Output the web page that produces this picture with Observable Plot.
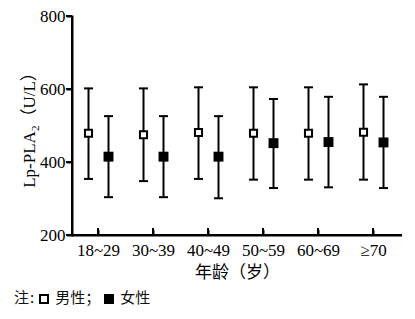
<!DOCTYPE html>
<html><head><meta charset="utf-8">
<script src="https://cdn.jsdelivr.net/npm/d3@7"></script>
<script src="https://cdn.jsdelivr.net/npm/@observablehq/plot@0.6"></script>
<style>
body{margin:0;background:#fff;font-family:"Liberation Serif","Noto Sans CJK SC",serif;}
#chart{position:relative;width:415px;height:282px}
.ax{position:absolute;background:#000}
#legend{font-family:"Noto Sans CJK SC",sans-serif;font-size:15px;color:#111;margin:4px 0 0 14px;height:22px;line-height:22px}
.sq{display:inline-block;box-sizing:border-box;width:10px;height:10px;margin:0 6px 0 4px;vertical-align:-1px}
</style></head>
<body><div id="chart"></div>
<div id="legend">注<span style="margin:0 1px">:</span><span class="sq" style="border:2px solid #000;background:#fff"></span>男性；<span class="sq" style="background:#000"></span>女性</div>
<script>
const ages = ["18~29","30~39","40~49","50~59","60~69","≥70"];
const maleMean = [480, 476, 482, 480, 480, 483];
const maleHi = [603, 603, 606, 606, 606, 614];
const maleLo = [355, 349, 355, 353, 353, 353];
const femaleMean = [416, 416, 416, 453, 456, 455];
const femaleHi = [527, 527, 527, 574, 580, 580];
const femaleLo = [305, 305, 302, 330, 332, 330];
const yTicks = [200, 400, 600, 800];
const yLabel = ["Lp-PLA", "2", "（U/L）"];
const xLabel = "年龄（岁）";

const male = ages.map((a, i) => ({age: a, mean: maleMean[i], hi: maleHi[i], lo: maleLo[i]}));
const female = ages.map((a, i) => ({age: a, mean: femaleMean[i], hi: femaleHi[i], lo: femaleLo[i]}));

const cap = {draw(ctx) { ctx.moveTo(-4.5, 0); ctx.lineTo(4.5, 0); }};

function group(data, dx, filled) {
  return [
    Plot.ruleX(data, {x: "age", y1: "lo", y2: "hi", dx, stroke: "#000", strokeWidth: 2}),
    Plot.dot(data, {x: "age", y: "hi", dx, symbol: cap, r: 4, fill: "none", stroke: "#000", strokeWidth: 2}),
    Plot.dot(data, {x: "age", y: "lo", dx, symbol: cap, r: 4, fill: "none", stroke: "#000", strokeWidth: 2}),
    Plot.dot(data, {x: "age", y: "mean", dx, symbol: "square", r: filled ? 5.6 : 4, fill: filled ? "#000" : "#fff", stroke: "#000", strokeWidth: filled ? 0 : 2})
  ];
}

const W = 415, H = 282, ML = 72, MR = 13, MT = 16, MB = 47;

const chart = Plot.plot({
  width: W,
  height: H,
  marginLeft: ML,
  marginRight: MR,
  marginTop: MT,
  marginBottom: MB,
  style: {fontFamily: '"Liberation Serif","Noto Sans CJK SC",serif', fontSize: "17px", color: "#000", background: "#fff"},
  x: {type: "point", domain: ages, range: [97, 374], padding: 0},
  y: {domain: [200, 800], range: [H - MB, MT]},
  marks: [
    Plot.frame({anchor: "left", stroke: "#000", strokeWidth: 2}),
    Plot.ruleY([yTicks[0]], {stroke: "#000", strokeWidth: 2}),
    Plot.axisY({ticks: yTicks, tickFormat: d => String(d), tickSize: 5, tickPadding: 2, strokeWidth: 2,
      label: "YLABEL", labelAnchor: "center", labelOffset: 50, labelArrow: "none"}),
    Plot.axisX({anchor: "top", frameAnchor: "bottom", tickSize: 6, strokeWidth: 2, tickFormat: () => "", label: null}),
    Plot.axisX({anchor: "bottom", tickSize: 0, tickPadding: 8,
      label: xLabel, labelAnchor: "center", labelOffset: 42, labelArrow: "none"}),
    ...group(male, -10, false),
    ...group(female, 10, true)
  ]
});
for (const t of chart.querySelectorAll("text")) {
  if (t.textContent === "YLABEL") {
    t.textContent = "";
    const ns = "http://www.w3.org/2000/svg";
    const a = document.createElementNS(ns, "tspan"); a.textContent = yLabel[0];
    const b = document.createElementNS(ns, "tspan"); b.textContent = yLabel[1];
    b.setAttribute("font-size", "11"); b.setAttribute("dy", "4");
    const c = document.createElementNS(ns, "tspan"); c.textContent = yLabel[2];
    c.setAttribute("dy", "-4");
    t.append(a, b, c);
  }
}
const host = document.getElementById("chart");
host.appendChild(chart);

// axis lines and ticks, positioned from Plot's own scales
const xs = chart.scale("x"), ys = chart.scale("y");
const yBottom = ys.apply(yTicks[0]), yTop = ys.apply(yTicks[yTicks.length - 1]);
function bar(left, top, w, h) {
  const d = document.createElement("div");
  d.className = "ax";
  Object.assign(d.style, {left: left + "px", top: top + "px", width: w + "px", height: h + "px"});
  host.appendChild(d);
}
bar(ML - 1, yTop, 2, yBottom - yTop + 1);          // y-axis line
bar(ML - 1, yBottom - 1, W - MR - ML + 1, 2);       // x-axis line
for (const v of yTicks) bar(ML - 6, ys.apply(v) - 1, 6, 2);      // y ticks (outward)
for (const a of ages) bar(xs.apply(a) - 1, yBottom - 7, 2, 7);    // x ticks (inward)
</script>
</body></html>
